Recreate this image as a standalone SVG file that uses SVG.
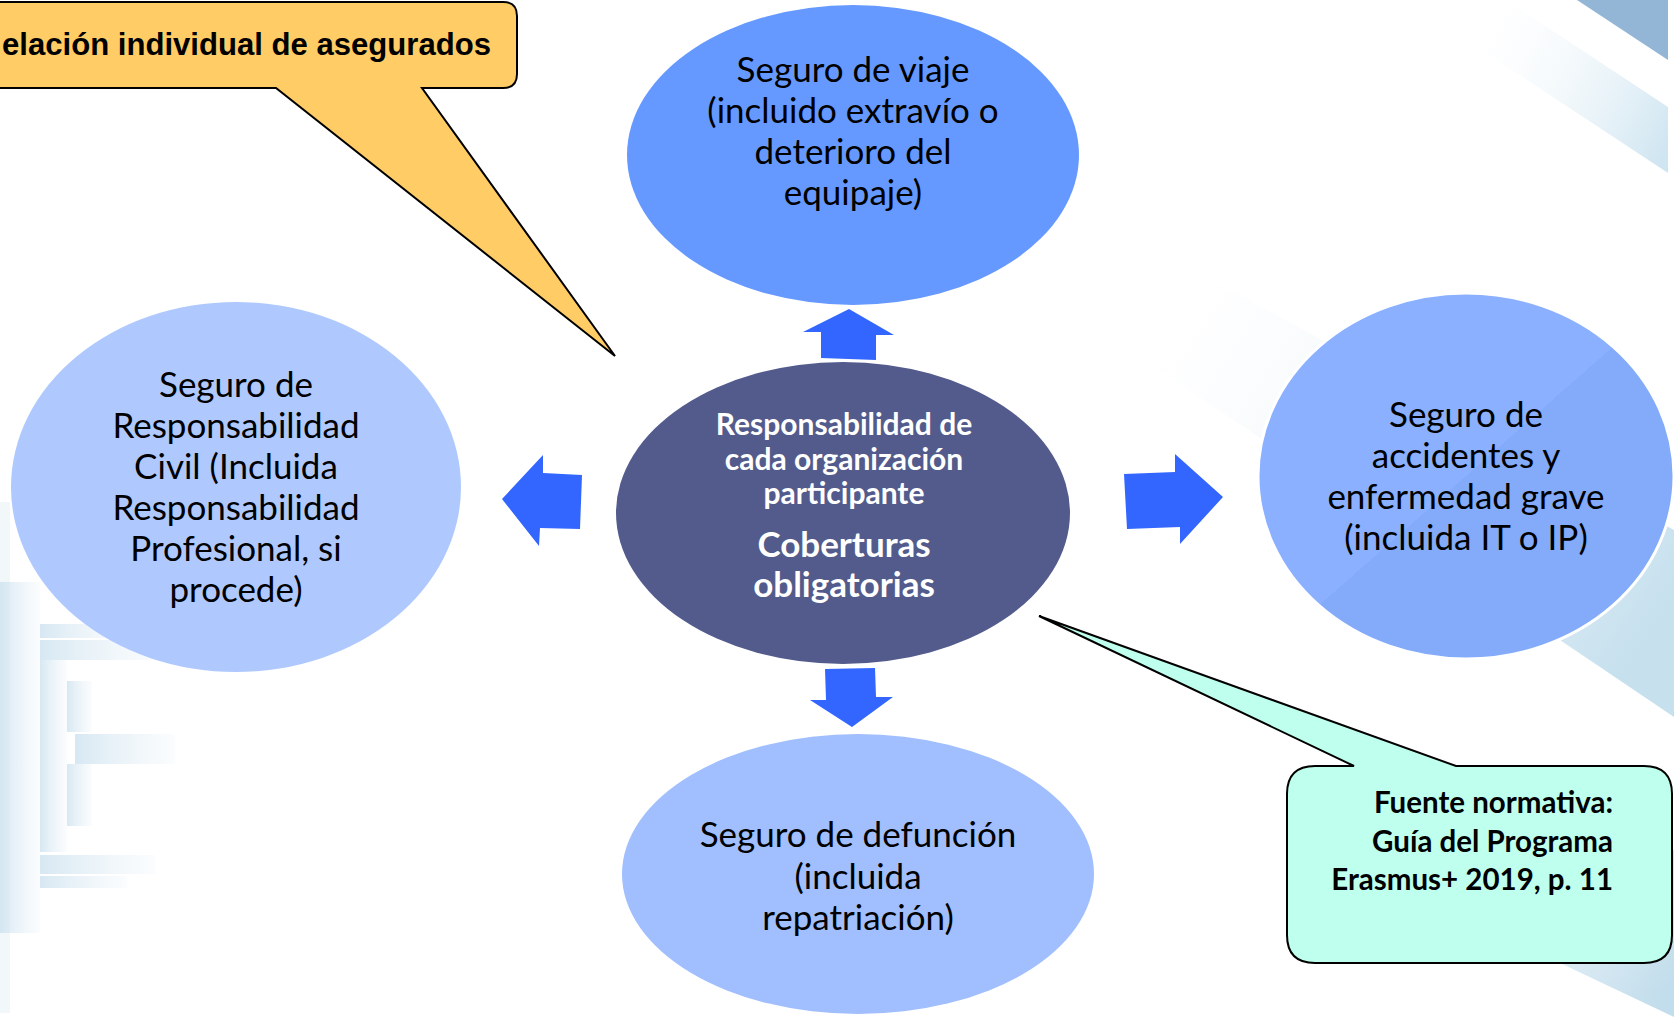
<svg xmlns="http://www.w3.org/2000/svg" width="1674" height="1017" viewBox="0 0 1674 1017">
<style>
.t{font-family:Lato,"Liberation Sans",sans-serif;font-size:35px;fill:#000;text-anchor:middle}
.tw{font-family:Lato,"Liberation Sans",sans-serif;font-weight:bold;fill:#fff;text-anchor:middle}
.tb{font-family:Lato,"Liberation Sans",sans-serif;font-weight:bold;font-size:29.5px;fill:#000;text-anchor:end}
.arrow{fill:#3366FF}
.callout{stroke:#000;stroke-width:2;stroke-linejoin:miter}
.bar{fill:url(#gBar)}
</style>
<defs>
<linearGradient id="gBar" x1="0" y1="0" x2="1" y2="0">
<stop offset="0" stop-color="#CDE2EF" stop-opacity="0.8"/>
<stop offset="1" stop-color="#E2EEF6" stop-opacity="0.15"/>
</linearGradient>
<linearGradient id="gBand" gradientUnits="userSpaceOnUse" x1="1150" y1="250" x2="1674" y2="600">
<stop offset="0" stop-color="#FFFFFF" stop-opacity="0"/>
<stop offset="0.55" stop-color="#DCEBF4" stop-opacity="0.6"/>
<stop offset="1" stop-color="#C6E0EE"/>
</linearGradient>
<linearGradient id="gBand2" gradientUnits="userSpaceOnUse" x1="1350" y1="760" x2="1674" y2="980">
<stop offset="0" stop-color="#FFFFFF" stop-opacity="0"/>
<stop offset="0.5" stop-color="#DCEBF4" stop-opacity="0.5"/>
<stop offset="1" stop-color="#C2DDEC"/>
</linearGradient>
<linearGradient id="gTop" gradientUnits="userSpaceOnUse" x1="1450" y1="40" x2="1668" y2="150">
<stop offset="0" stop-color="#FFFFFF" stop-opacity="0"/>
<stop offset="1" stop-color="#CFE5F1"/>
</linearGradient>
<linearGradient id="gRight" x1="0" y1="0" x2="1" y2="1">
<stop offset="0.5" stop-color="#8AB0FF"/>
<stop offset="0.5" stop-color="#83ABFA"/>
</linearGradient>
</defs>

<g id="background">
<rect width="1674" height="1017" fill="#FFFFFF"/>
<polygon points="1577,0 1668,0 1668,60" fill="#93B6D6"/>
<polygon points="1506,0 1668,107 1668,173 1406,0" fill="url(#gTop)"/>
<polygon points="1100,220 1674,530 1674,717 1100,330" fill="url(#gBand)"/>
<polygon points="1300,790 1674,850 1674,1017 1560,963 1300,800" fill="url(#gBand2)"/>
<rect x="0" y="502" width="10" height="511" fill="#E6F0F6" opacity="0.5"/>
<rect x="0" y="582" width="40" height="351" class="bar"/>
<rect x="40" y="660" width="27" height="192" class="bar"/>
<rect x="67" y="681" width="25" height="51" class="bar"/>
<rect x="67" y="764" width="25" height="62" class="bar"/>
<rect x="40" y="624" width="87" height="14" class="bar"/>
<rect x="40" y="640" width="120" height="20" class="bar"/>
<rect x="75" y="734" width="100" height="30" class="bar"/>
<rect x="40" y="855" width="115" height="19" class="bar"/>
<rect x="40" y="876" width="87" height="12" class="bar"/>
</g>

<g id="node-rc">
<ellipse cx="236" cy="487" rx="225" ry="185" fill="#AFC9FE"/>
<text class="t" x="236" y="397">Seguro de</text>
<text class="t" x="236" y="438">Responsabilidad</text>
<text class="t" x="236" y="479">Civil (Incluida</text>
<text class="t" x="236" y="520">Responsabilidad</text>
<text class="t" x="236" y="561">Profesional, si</text>
<text class="t" x="236" y="602">procede)</text>
</g>

<g id="node-viaje">
<ellipse cx="853" cy="155" rx="226" ry="150" fill="#6699FF"/>
<text class="t" x="853" y="82">Seguro de viaje</text>
<text class="t" x="853" y="123">(incluido extravío o</text>
<text class="t" x="853" y="164">deterioro del</text>
<text class="t" x="853" y="205">equipaje)</text>
</g>

<g id="node-accidentes">
<ellipse cx="1466" cy="476" rx="208" ry="183" fill="url(#gRight)" stroke="#FFFFFF" stroke-width="3"/>
<text class="t" x="1466" y="427">Seguro de</text>
<text class="t" x="1466" y="468">accidentes y</text>
<text class="t" x="1466" y="509">enfermedad grave</text>
<text class="t" x="1466" y="550">(incluida IT o IP)</text>
</g>

<g id="node-defuncion">
<ellipse cx="858" cy="874" rx="236" ry="140" fill="#A1BFFE"/>
<text class="t" x="858" y="847">Seguro de defunción</text>
<text class="t" x="858" y="889">(incluida</text>
<text class="t" x="858" y="930">repatriación)</text>
</g>

<g id="node-center">
<ellipse cx="843" cy="513" rx="227" ry="151" fill="#525B8C"/>
<text class="tw" x="844" y="435" font-size="30">Responsabilidad de</text>
<text class="tw" x="844" y="470" font-size="30">cada organización</text>
<text class="tw" x="844" y="504" font-size="30">participante</text>
<text class="tw" x="844" y="557" font-size="35">Coberturas</text>
<text class="tw" x="844" y="597" font-size="35">obligatorias</text>
</g>

<g id="connectors">
<polygon class="arrow" points="849,309 894,335 876,335 876,360 821,358 821,332 803,332"/>
<polygon class="arrow" points="825,669 875,668 876,697 893,697 852,727 810,700 826,700"/>
<polygon class="arrow" points="502,499 543,455 543,473 582,475 580,529 540,528 539,546"/>
<polygon class="arrow" points="1124,474 1175,472 1175,454 1223,497 1180,544 1180,527 1127,529"/>
</g>

<g id="callout-relacion">
<path class="callout" fill="#FFCC66" d="M -20,2 H 503 Q 517,2 517,16 V 74 Q 517,88 503,88 H 422 L 615,356 L 276,88 H -20 Z"/>
<text x="2" y="55" font-family="'Liberation Sans',Arial,sans-serif" font-weight="bold" font-size="31.1" fill="#000">elación individual de asegurados</text>
</g>

<g id="callout-fuente">
<path class="callout" fill="#BFFFEE" d="M 1315,766 H 1354 L 1039,616 L 1456,766 H 1644 Q 1672,766 1672,794 V 935 Q 1672,963 1644,963 H 1315 Q 1287,963 1287,935 V 794 Q 1287,766 1315,766 Z"/>
<text class="tb" x="1613" y="813">Fuente normativa:</text>
<text class="tb" x="1613" y="852">Guía del Programa</text>
<text class="tb" x="1613" y="890">Erasmus+ 2019, p. 11</text>
</g>
</svg>
